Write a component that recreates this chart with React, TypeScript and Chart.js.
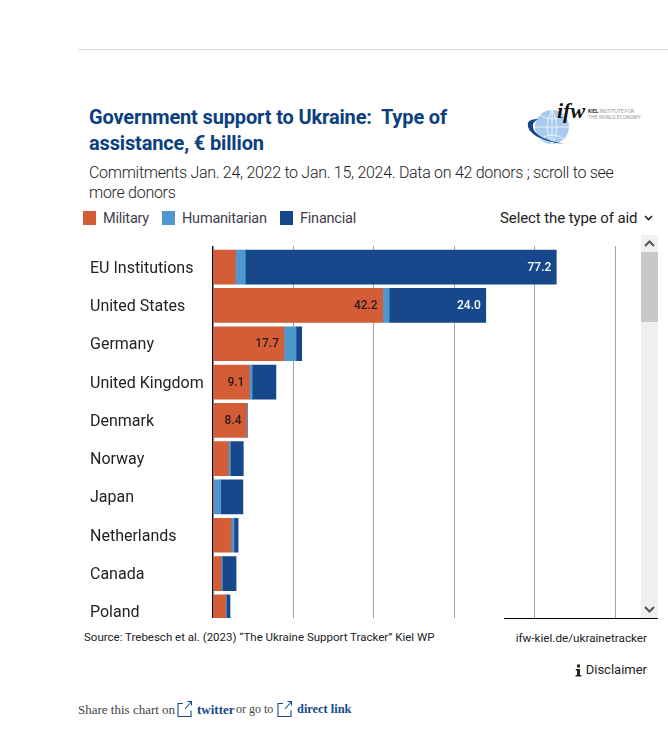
import React, { useEffect, useRef } from "react";
import { Chart, registerables } from "chart.js";

Chart.register(...registerables);

const donors = ["EU Institutions", "United States", "Germany", "United Kingdom", "Denmark", "Norway", "Japan", "Netherlands", "Canada", "Poland"];
const military = [5.6, 42.2, 17.7, 9.1, 8.4, 3.9, 0.1, 4.6, 2.1, 3.2];
const humanitarian = [2.5, 1.6, 3.0, 0.7, 0.2, 0.5, 1.9, 0.7, 0.3, 0.2];
const financial = [77.2, 24.0, 1.4, 5.9, 0, 3.2, 5.5, 1.0, 3.4, 0.9];
const xTicks = [0, 20, 40, 60, 80, 100];

const ORANGE = "#d35d36";
const LIGHT = "#4f97cc";
const NAVY = "#17488b";
const TITLE = "#0c3f80";

const valueLabels = {
  id: "valueLabels",
  afterDatasetsDraw(chart: any) {
    const { ctx } = chart;
    ctx.save();
    ctx.font = "500 12px Roboto";
    ctx.textAlign = "right";
    ctx.textBaseline = "middle";
    chart.data.datasets.forEach((ds: any, i: number) => {
      const meta = chart.getDatasetMeta(i);
      ds.data.forEach((v: number, j: number) => {
        if (v < 8) return;
        const el = meta.data[j];
        ctx.fillStyle = ds.labelColor;
        ctx.fillText(v.toFixed(1), el.x - 5, el.y + 0.5);
      });
    });
    ctx.restore();
  },
};

const abs = (left: number, top: number, extra: React.CSSProperties = {}): React.CSSProperties => ({
  position: "absolute",
  left,
  top,
  whiteSpace: "pre",
  ...extra,
});

function ExtIcon({ x, y }: { x: number; y: number }) {
  return (
    <svg style={abs(x, y)} width="16" height="17" viewBox="0 0 16 17" fill="none" stroke={NAVY} strokeWidth="1.1">
      <path d="M6 3.5H1v13h13v-6" />
      <path d="M8 9l6.5-7.5M10.5 1.5h4v4" />
    </svg>
  );
}

function Chevron({ x, y, up }: { x: number; y: number; up?: boolean }) {
  return (
    <svg style={abs(x, y)} width="11" height="7" viewBox="0 0 11 7" fill="none" stroke="#555" strokeWidth="2">
      <path d={up ? "M1 6l4.5-4.5L10 6" : "M1 1l4.5 4.5L10 1"} />
    </svg>
  );
}

function Logo() {
  return (
    <svg style={abs(526, 100)} width="124" height="48" viewBox="0 0 124 48">
      <circle cx="26" cy="27" r="17" fill="#a9ccee" />
      <path d="M26 10v34M9 27h34M14 15q12 8 24 0M14 39q12-8 24 0M26 10q-10 17 0 34M26 10q10 17 0 34" stroke="#fff" strokeWidth="0.7" fill="none" />
      <path d="M2 23c-2 9 12 19 38 21-19-3-34-9-33-19 0-2 2-4 5-6-5 0-9 1-10 4z" fill="#17488b" />
      <text x="31" y="18" fontFamily="'Liberation Serif'" fontStyle="italic" fontWeight="700" fontSize="22" fill="#111">ifw</text>
      <text x="62" y="13" fontFamily="Roboto" fontSize="5" fill="#999"><tspan fontWeight="700" fill="#333">KIEL</tspan> INSTITUTE FOR</text>
      <text x="62" y="19" fontFamily="Roboto" fontSize="5" fill="#999">THE WORLD ECONOMY</text>
    </svg>
  );
}

export default function App() {
  const ref = useRef<HTMLCanvasElement>(null);

  useEffect(() => {
    if (!ref.current) return;
    const chart = new Chart(ref.current, {
      type: "bar",
      data: {
        labels: donors,
        datasets: [
          { label: "Military", data: military, backgroundColor: ORANGE, labelColor: "#2a1a20" },
          { label: "Humanitarian", data: humanitarian, backgroundColor: LIGHT, labelColor: "#2a1a20" },
          { label: "Financial", data: financial, backgroundColor: NAVY, labelColor: "#ffffff" },
        ] as any,
      },
      options: {
        indexAxis: "y",
        responsive: false,
        animation: false,
        layout: { padding: { top: 0, left: 0, right: 24.5, bottom: 0 } },
        datasets: { bar: { barThickness: 34 } },
        plugins: { legend: { display: false }, tooltip: { enabled: false }, title: { display: false } },
        scales: {
          x: {
            position: "top",
            stacked: true,
            min: 0,
            max: 100,
            afterBuildTicks(scale: any) {
              scale.ticks = xTicks.map((value) => ({ value }));
            },
            ticks: { display: false },
            border: { display: false },
            grid: {
              color: (c: any) => (c.tick && c.tick.value === 0 ? "#0a0f2c" : "#a3a3a3"),
              lineWidth: (c: any) => (c.tick && c.tick.value === 0 ? 1.5 : 1),
              drawTicks: true,
              tickLength: 2,
            },
          },
          y: {
            stacked: true,
            afterFit(scale: any) {
              scale.width = 122.7;
              scale.paddingTop = 0;
              scale.paddingBottom = 0;
            },
            border: { display: false },
            grid: { display: false },
            ticks: {
              autoSkip: false,
              crossAlign: "far",
              padding: 0,
              color: "#222",
              font: { family: "Roboto", size: 16, lineHeight: "3px" },
              callback(this: any, value: any) {
                return ["", this.getLabelForValue(value)];
              },
            },
          },
        },
      } as any,
      plugins: [valueLabels],
    });
    return () => chart.destroy();
  }, []);

  const legend = [
    { label: "Military", color: ORANGE, box: 83, text: 103 },
    { label: "Humanitarian", color: LIGHT, box: 162, text: 182 },
    { label: "Financial", color: NAVY, box: 280, text: 300 },
  ];

  return (
    <div style={{ position: "absolute", left: 0, top: 0, width: 668, height: 746, overflow: "hidden", background: "#fff", fontFamily: "Roboto" }}>
      <div style={abs(78, 49, { width: 590, height: 1, background: "#d9d9d9" })} />

      <div style={abs(89, 105, { fontSize: 20, fontWeight: 700, lineHeight: "25.5px", letterSpacing: -0.15, color: TITLE })}>
        {"Government support to Ukraine:  Type of\nassistance, € billion"}
      </div>
      <Logo />

      <div style={abs(89, 163, { fontSize: 16, fontWeight: 300, lineHeight: "19.5px", letterSpacing: -0.29, color: "#222" })}>
        {"Commitments Jan. 24, 2022 to Jan. 15, 2024. Data on 42 donors ; scroll to see\nmore donors"}
      </div>

      {legend.map((l) => (
        <React.Fragment key={l.label}>
          <div style={abs(l.box, 211, { width: 13, height: 14, background: l.color })} />
          <div style={abs(l.text, 210, { fontSize: 14.5, lineHeight: "17px", letterSpacing: -0.22, color: "#3d3d4d" })}>{l.label}</div>
        </React.Fragment>
      ))}

      <div style={abs(500, 209, { fontSize: 15, lineHeight: "18px", letterSpacing: -0.1, color: "#222" })}>Select the type of aid</div>
      <svg style={abs(644, 215)} width="9" height="6" viewBox="0 0 9 6" fill="none" stroke="#222" strokeWidth="1.6">
        <path d="M1 1l3.5 3.5L8 1" />
      </svg>

      <div style={abs(90, 246, { width: 550, height: 372, overflow: "hidden" })}>
        <canvas ref={ref} width={550} height={385} style={{ display: "block" }} />
      </div>

      <div style={abs(641, 235, { width: 17, height: 383, background: "#f0f0f0" })} />
      <div style={abs(641, 252, { width: 17, height: 70, background: "#c8c8c8" })} />
      <Chevron x={644} y={240} up />
      <Chevron x={644} y={606} />
      <div style={abs(504, 618, { width: 154, height: 1, background: "#000" })} />

      <div style={abs(84, 630, { fontSize: 11.5, lineHeight: "14px", color: "#222" })}>
        Source: Trebesch et al. (2023) “The Ukraine Support Tracker” Kiel WP
      </div>
      <div style={{ ...abs(0, 631, { fontSize: 11.7, lineHeight: "14px", color: "#222" }), left: "auto", right: 21 }}>
        ifw-kiel.de/ukrainetracker
      </div>
      <div style={{ ...abs(0, 662, { fontSize: 13, lineHeight: "16px", color: "#222" }), left: "auto", right: 21 }}>Disclaimer</div>
      <svg style={abs(575, 664)} width="7" height="13" viewBox="0 0 7 13" fill="#222">
        <rect x="2" y="0.5" width="3" height="3" />
        <path d="M0.8 5h4.2v6H6.4v1.5H0.6V11H2V6.4H0.8z" />
      </svg>

      <div style={abs(78, 702, { fontFamily: "'Liberation Serif'", fontSize: 13, lineHeight: "15px", color: "#444" })}>Share this chart on</div>
      <ExtIcon x={177} y={700} />
      <div style={abs(197, 702, { fontFamily: "'Liberation Serif'", fontSize: 13, lineHeight: "15px", fontWeight: 700, color: NAVY })}>twitter</div>
      <div style={abs(236, 702, { fontFamily: "'Liberation Serif'", fontSize: 12, lineHeight: "15px", color: "#444" })}>or go to</div>
      <ExtIcon x={277} y={700} />
      <div style={abs(297, 702, { fontFamily: "'Liberation Serif'", fontSize: 12.4, lineHeight: "15px", fontWeight: 700, color: NAVY })}>direct link</div>
    </div>
  );
}
